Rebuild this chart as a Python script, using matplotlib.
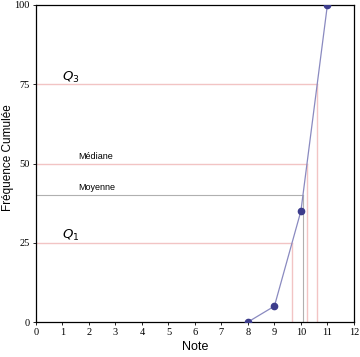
import matplotlib.pyplot as plt
import numpy as np

notes = [8, 9, 10, 11]
freq_cum = [0, 5, 35, 100]

# quantile levels and mean
q_levels = [25, 50, 75]
mean_level = 40
labels = ["$Q_1$", "Médiane", "$Q_3$"]


def inverse(y):
    return np.interp(y, freq_cum, notes)


fig = plt.figure(figsize=(3.6, 3.57), dpi=100)
ax = fig.add_axes([0.1, 0.098, 0.883, 0.888])

pink = '#f2c4c4'
for lvl in q_levels:
    xq = inverse(lvl)
    ax.plot([0, xq], [lvl, lvl], color=pink, lw=1)
    ax.plot([xq, xq], [0, lvl], color=pink, lw=1)

xm = inverse(mean_level)
ax.plot([0, xm], [mean_level, mean_level], color='#b0b0b0', lw=0.8)
ax.plot([xm, xm], [0, mean_level], color='#b0b0b0', lw=0.8)

ax.plot(notes, freq_cum, color='#8a8ac0', lw=0.9, marker='o', ms=4.5,
        mfc='#3c3c8c', mec='#3c3c8c', zorder=3)

ax.text(1.0, 76.2, labels[2], fontsize=9.5, style='italic')
ax.text(1.0, 26.2, labels[0], fontsize=9.5, style='italic')
ax.text(1.6, 51.5, labels[1], fontsize=6.5, family='Liberation Sans')
ax.text(1.6, 41.5, "Moyenne", fontsize=6.5, family='Liberation Sans')

ax.set_xlim(0, 12)
ax.set_ylim(0, 100)
ax.set_xticks(range(13))
ax.set_yticks([0, 25, 50, 75, 100])
for lab in ax.get_xticklabels() + ax.get_yticklabels():
    lab.set_fontfamily('Liberation Serif')
    lab.set_fontsize(7.5)
ax.tick_params(direction='out', length=2.5, width=0.6, pad=2)
for s in ax.spines.values():
    s.set_linewidth(0.9)

ax.set_xlabel("Note", fontsize=9, labelpad=3, family='Liberation Sans')
ax.set_ylabel("Fréquence Cumulée", fontsize=8.5, labelpad=1,
              family='Liberation Sans')
ax.yaxis.set_label_coords(-0.07, 0.52)

fig.savefig("out.png", dpi=100)
